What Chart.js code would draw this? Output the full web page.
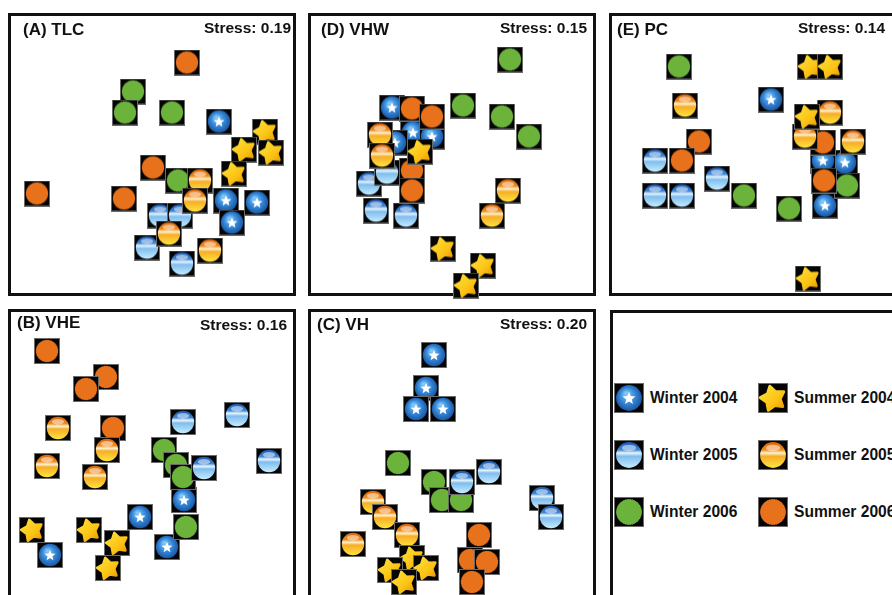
<!DOCTYPE html>
<html>
<head>
<meta charset="utf-8">
<script src="https://cdn.jsdelivr.net/npm/chart.js@4.4.1/dist/chart.umd.min.js"></script>
<style>
  body { margin: 0; width: 892px; height: 595px; overflow: hidden; background: #fff; position: relative;
         font-family: "Liberation Sans", Arial, sans-serif; }
  .box { position: absolute; }
  .legend { position: absolute; left: 610px; top: 310px; width: 320px; height: 320px;
            border-left: 3px solid #111; border-top: 3px solid #111; box-sizing: border-box; }
  .item { position: absolute; display: flex; align-items: center; font-weight: bold; font-size: 15.6px; color: #111; white-space: nowrap; }
  .item img { width: 30px; height: 30px; margin-right: 6px; }
</style>
</head>
<body>
<div class="legend"></div>
<script>
// seasons, in the order of the point lists below
const seasons = ["Winter 2004", "Winter 2005", "Winter 2006", "Summer 2004", "Summer 2005", "Summer 2006"];
const icons = ["starBall", "glassBlue", "sunGreen", "star", "glassOrange", "sunOrange"];

// NMDS coordinates [axis1, axis2], 4 samples per season
const tlc = [
  [[0.67, 0.33], [0.74, -0.46], [1.05, -0.48], [0.80, -0.68]],
  [[0.08, -0.61], [0.28, -0.61], [-0.05, -0.93], [0.30, -1.09]],
  [[-0.19, 0.63], [-0.27, 0.42], [0.20, 0.42], [0.26, -0.26]],
  [[1.13, 0.23], [0.92, 0.05], [1.19, 0.02], [0.82, -0.19]],
  [[0.48, -0.26], [0.43, -0.46], [0.17, -0.79], [0.58, -0.96]],
  [[0.35, 0.92], [-1.15, -0.39], [0.01, -0.13], [-0.28, -0.44]]
];
const vhw = [
  [[-0.60, 0.47], [-0.39, 0.22], [-0.20, 0.18], [-0.57, 0.12]],
  [[-0.83, -0.29], [-0.76, -0.56], [-0.46, -0.61], [-0.65, -0.18]],
  [[0.58, 0.95], [0.11, 0.49], [0.50, 0.38], [0.77, 0.18]],
  [[-0.32, 0.03], [-0.09, -0.94], [0.31, -1.11], [0.14, -1.31]],
  [[-0.72, 0.20], [-0.70, -0.01], [0.56, -0.36], [0.40, -0.61]],
  [[-0.40, 0.46], [-0.20, 0.38], [-0.40, -0.16], [-0.40, -0.36]]
];
const pc = [
  [[0.18, 0.55], [0.92, -0.08], [0.72, -0.51], [0.70, -0.06]],
  [[-0.98, -0.06], [-0.98, -0.41], [-0.71, -0.41], [-0.36, -0.24]],
  [[-0.74, 0.88], [-0.09, -0.41], [0.36, -0.54], [0.94, -0.31]],
  [[0.57, 0.88], [0.77, 0.88], [0.54, 0.38], [0.55, -1.24]],
  [[-0.68, 0.49], [0.77, 0.42], [0.52, 0.18], [1.00, 0.13]],
  [[-0.54, 0.13], [-0.71, -0.06], [0.70, 0.12], [0.71, -0.26]]
];
const vhe = [
  [[0.32, -0.45], [-0.12, -0.62], [0.15, -0.92], [-1.02, -1.00]],
  [[0.31, 0.33], [0.85, 0.40], [1.17, -0.06], [0.52, -0.13]],
  [[0.12, 0.05], [0.24, -0.10], [0.31, -0.22], [0.34, -0.72]],
  [[-1.20, -0.75], [-0.63, -0.75], [-0.35, -0.88], [-0.44, -1.13]],
  [[-0.94, 0.27], [-1.05, -0.11], [-0.45, 0.05], [-0.57, -0.22]],
  [[-1.05, 1.04], [-0.46, 0.78], [-0.66, 0.66], [-0.39, 0.27]]
];
const vh = [
  [[-0.18, 1.00], [-0.26, 0.67], [-0.36, 0.46], [-0.09, 0.46]],
  [[0.10, -0.27], [0.37, -0.17], [0.90, -0.43], [0.99, -0.62]],
  [[-0.54, -0.08], [-0.18, -0.27], [-0.10, -0.45], [0.09, -0.45]],
  [[-0.40, -1.03], [-0.26, -1.13], [-0.62, -1.15], [-0.48, -1.27]],
  [[-0.79, -0.47], [-0.67, -0.62], [-0.45, -0.80], [-0.99, -0.89]],
  [[0.27, -0.80], [0.18, -1.05], [0.35, -1.07], [0.20, -1.27]]
];

// panels: label, stress, data + frame placement
const panels = [
  { name: "(A) TLC", stress: "Stress: 0.19", pts: tlc, left: 8, top: 13, w: 288, h: 283, tx: 15, ty: 17.5, sx: 283, sy: 15.5 },
  { name: "(D) VHW", stress: "Stress: 0.15", pts: vhw, left: 308, top: 13, w: 288, h: 283, tx: 13, ty: 17, sx: 279, sy: 15.5 },
  { name: "(E) PC", stress: "Stress: 0.14", pts: pc, left: 609, top: 13, w: 288, h: 283, tx: 8, ty: 17, sx: 276, sy: 15.5 },
  { name: "(B) VHE", stress: "Stress: 0.16", pts: vhe, left: 8, top: 309, w: 288, h: 292, tx: 9, ty: 14, sx: 279, sy: 17 },
  { name: "(C) VH", stress: "Stress: 0.20", pts: vh, left: 308, top: 309, w: 288, h: 292, tx: 9, ty: 16, sx: 279, sy: 16 }
];

// ---- marker icons ----
function starPath(g, cx, cy, ro, ri, rot) {
  g.beginPath();
  for (let i = 0; i < 10; i++) {
    const r = i % 2 ? ri : ro;
    const a = rot - Math.PI / 2 + i * Math.PI / 5;
    g.lineTo(cx + r * Math.cos(a), cy + r * Math.sin(a));
  }
  g.closePath();
}
function sunPath(g, cx, cy, r) {
  g.beginPath();
  const n = 44;
  for (let i = 0; i < n * 2; i++) {
    const rr = i % 2 ? r * 0.95 : r;
    const a = i * Math.PI / n;
    g.lineTo(cx + rr * Math.cos(a), cy + rr * Math.sin(a));
  }
  g.closePath();
}
function makeIcon(kind, size) {
  const c = document.createElement("canvas");
  c.width = c.height = size;
  const g = c.getContext("2d");
  g.fillStyle = "#050505";
  g.fillRect(0, 0, size, size);
  g.strokeStyle = "#6a6a6a";
  g.lineWidth = 1;
  g.strokeRect(0.5, 0.5, size - 1, size - 1);
  const m = size / 2, r = size * 0.43;
  if (kind === "starBall") {
    const gr = g.createRadialGradient(m - r * 0.25, m - r * 0.4, 0, m, m, r * 1.1);
    gr.addColorStop(0, "#8fd0fa");
    gr.addColorStop(0.5, "#3a8ddc");
    gr.addColorStop(1, "#14509e");
    g.fillStyle = gr;
    g.beginPath(); g.arc(m, m, r, 0, Math.PI * 2); g.fill();
    g.fillStyle = "#fff";
    starPath(g, m, m + 0.5, r * 0.52, r * 0.23, 0);
    g.fill();
  } else if (kind === "glassBlue" || kind === "glassOrange") {
    const blue = kind === "glassBlue";
    const gr = g.createLinearGradient(0, m - r, 0, m + r);
    if (blue) {
      gr.addColorStop(0, "#1b57ad"); gr.addColorStop(0.3, "#3f86d6");
      gr.addColorStop(0.42, "#e8f6ff"); gr.addColorStop(0.55, "#7fbdee");
      gr.addColorStop(1, "#c6ecff");
    } else {
      gr.addColorStop(0, "#d8650c"); gr.addColorStop(0.3, "#ef8a1c");
      gr.addColorStop(0.42, "#fff4cf"); gr.addColorStop(0.55, "#f7ad27");
      gr.addColorStop(1, "#ffe43f");
    }
    g.fillStyle = gr;
    g.beginPath(); g.arc(m, m, r, 0, Math.PI * 2); g.fill();
    g.fillStyle = "rgba(255,255,255,0.5)";
    g.beginPath(); g.ellipse(m, m - r * 0.55, r * 0.55, r * 0.25, 0, 0, Math.PI * 2); g.fill();
  } else if (kind === "sunGreen" || kind === "sunOrange") {
    g.fillStyle = kind === "sunGreen" ? "#6cb33c" : "#e8711b";
    sunPath(g, m, m, r * 1.02);
    g.fill();
  } else if (kind === "star") {
    const gr = g.createLinearGradient(m - r, m - r, m + r, m + r);
    gr.addColorStop(0, "#ffe23a");
    gr.addColorStop(0.6, "#fbc315");
    gr.addColorStop(1, "#e89300");
    g.fillStyle = gr;
    g.strokeStyle = gr;
    g.lineJoin = "round";
    g.lineWidth = size * 0.1;
    starPath(g, m, m + 0.5, r * 0.98, r * 0.56, -0.25);
    g.fill(); g.stroke();
  }
  return c;
}
const markers = icons.map(k => makeIcon(k, 26));

// ---- legend panel ----
const legend = document.querySelector(".legend");
seasons.forEach((s, i) => {
  const col = i < 3 ? 0 : 1, row = i % 3;
  const d = document.createElement("div");
  d.className = "item";
  d.style.left = (col ? 145 : 1) + "px";
  d.style.top = (70 + row * 57) + "px";
  const img = document.createElement("img");
  img.src = makeIcon(icons[i], 30).toDataURL();
  d.appendChild(img);
  d.appendChild(document.createTextNode(s));
  legend.appendChild(d);
});

// ---- frame + labels plugin ----
const framePlugin = {
  id: "frame",
  beforeDatasetsDraw(chart, args, o) {
    const { ctx, chartArea: a } = chart;
    ctx.save();
    ctx.lineWidth = 3;
    ctx.strokeStyle = "#111";
    ctx.strokeRect(a.left + 1.5, a.top + 1.5, a.width - 3, a.height - 3);
    ctx.fillStyle = "#111";
    ctx.textBaseline = "middle";
    ctx.textAlign = "left";
    ctx.font = 'bold 17px "Liberation Sans", Arial, sans-serif';
    ctx.fillText(o.name, a.left + o.tx, a.top + o.ty);
    ctx.textAlign = "right";
    ctx.font = 'bold 15.5px "Liberation Sans", Arial, sans-serif';
    ctx.fillText(o.stress, a.left + o.sx, a.top + o.sy);
    ctx.restore();
  }
};

// top of the stack first
const drawOrder = [3, 4, 5, 1, 2, 0];
const pad = 16;

panels.forEach(p => {
  const box = document.createElement("div");
  box.className = "box";
  box.style.left = (p.left - pad) + "px";
  box.style.top = (p.top - pad) + "px";
  const cv = document.createElement("canvas");
  cv.width = p.w + pad * 2;
  cv.height = p.h + pad * 2;
  box.appendChild(cv);
  document.body.appendChild(box);

  const datasets = drawOrder.map(i => ({
    label: seasons[i],
    data: p.pts[i].map(([x, y]) => ({ x, y })),
    pointStyle: markers[i],
    pointRadius: 13,
    clip: false
  }));

  new Chart(cv, {
    type: "scatter",
    data: { datasets },
    options: {
      responsive: false,
      animation: false,
      events: [],
      layout: { padding: pad },
      scales: {
        x: { display: false, min: -p.w / 200, max: p.w / 200 },
        y: { display: false, min: -p.h / 200, max: p.h / 200 }
      },
      plugins: {
        legend: { display: false },
        tooltip: { enabled: false },
        frame: { name: p.name, stress: p.stress, tx: p.tx, ty: p.ty, sx: p.sx, sy: p.sy }
      }
    },
    plugins: [framePlugin]
  });
});
</script>
</body>
</html>
